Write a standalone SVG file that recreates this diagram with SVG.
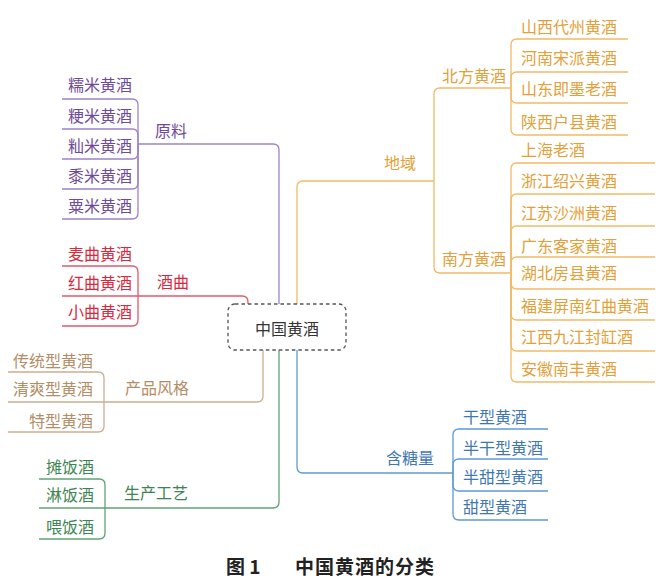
<svg xmlns="http://www.w3.org/2000/svg" width="660" height="586" viewBox="0 0 660 586">
<style>
text{font-family:"Noto Sans CJK SC","Noto Sans",sans-serif;font-size:16px}
.c path{fill:none;stroke-width:1.3}
.pu{stroke:#9d84c6}.re{stroke:#e2596a}.br{stroke:#ccae90}.gr{stroke:#5fa276}.or{stroke:#f1bb66}.bl{stroke:#5d9bd3}
.tpu{fill:#6f4a98}.tre{fill:#d9283d}.tbr{fill:#b38d66}.tgr{fill:#3e8452}.tor{fill:#e39f38}.tbl{fill:#3f78b0}
.end{text-anchor:end}
</style>
<rect width="660" height="586" fill="#fff"/>
<g id="connectors" class="c">
<!-- purple -->
<path class="pu" d="M279,304 V150 Q279,144 273,144 H138"/>
<path class="pu" d="M138,144 V105 Q138,99 132,99 H62"/>
<path class="pu" d="M138,144 V135 Q138,129 132,129 H62"/>
<path class="pu" d="M138,144 V153 Q138,159 132,159 H62"/>
<path class="pu" d="M138,144 V183 Q138,189 132,189 H62"/>
<path class="pu" d="M138,144 V213 Q138,219 132,219 H62"/>
<!-- red -->
<path class="re" d="M248,304 V302 Q248,296 242,296 H138"/>
<path class="re" d="M138,296 V272 Q138,266 132,266 H62"/>
<path class="re" d="M138,296 H62"/>
<path class="re" d="M138,296 V320 Q138,326 132,326 H62"/>
<!-- brown -->
<path class="br" d="M263,350 V396 Q263,402 257,402 H104"/>
<path class="br" d="M104,402 V378 Q104,372 98,372 H8"/>
<path class="br" d="M104,402 H8"/>
<path class="br" d="M104,402 V426 Q104,432 98,432 H8"/>
<!-- green -->
<path class="gr" d="M279,350 V502 Q279,508 273,508 H105"/>
<path class="gr" d="M105,508 V485 Q105,479 99,479 H39"/>
<path class="gr" d="M105,508 H39"/>
<path class="gr" d="M105,508 V533 Q105,539 99,539 H39"/>
<!-- orange -->
<path class="or" d="M297,304 V187 Q297,181 303,181 H434"/>
<path class="or" d="M434,181 V94 Q434,88 440,88 H511"/>
<path class="or" d="M434,181 V267 Q434,273 440,273 H511"/>
<path class="or" d="M511,88 V45 Q511,39 517,39 H628"/>
<path class="or" d="M511,88 V78 Q511,72 517,72 H628"/>
<path class="or" d="M511,88 V97 Q511,103 517,103 H628"/>
<path class="or" d="M511,88 V129 Q511,135 517,135 H628"/>
<path class="or" d="M511,273 V169 Q511,163 517,163 H655"/>
<path class="or" d="M511,273 V200 Q511,194 517,194 H655"/>
<path class="or" d="M511,273 V232 Q511,226 517,226 H655"/>
<path class="or" d="M511,273 V263 Q511,257 517,257 H655"/>
<path class="or" d="M511,273 V283 Q511,289 517,289 H655"/>
<path class="or" d="M511,273 V314 Q511,320 517,320 H655"/>
<path class="or" d="M511,273 V345 Q511,351 517,351 H655"/>
<path class="or" d="M511,273 V376 Q511,382 517,382 H655"/>
<!-- blue -->
<path class="bl" d="M297,350 V467 Q297,473 303,473 H453"/>
<path class="bl" d="M453,473 V435 Q453,429 459,429 H548"/>
<path class="bl" d="M453,473 V465 Q453,459 459,459 H548"/>
<path class="bl" d="M453,473 V485 Q453,491 459,491 H548"/>
<path class="bl" d="M453,473 V514 Q453,520 459,520 H548"/>
</g>
<g id="root">
<rect x="228" y="304" width="118" height="46" rx="7" fill="#fff" stroke="#555" stroke-width="1.3" stroke-dasharray="3.5,3"/>
<text x="287" y="335" text-anchor="middle" fill="#333">中国黄酒</text>
</g>
<!-- 原料 -->
<g id="n-yuanliao"><text class="tpu" x="155" y="137">原料</text></g>
<g id="n-nuomi"><text class="tpu" x="68" y="91">糯米黄酒</text></g>
<g id="n-gengmi"><text class="tpu" x="68" y="122">粳米黄酒</text></g>
<g id="n-xianmi"><text class="tpu" x="68" y="152">籼米黄酒</text></g>
<g id="n-shumi"><text class="tpu" x="68" y="182">黍米黄酒</text></g>
<g id="n-sumi"><text class="tpu" x="68" y="212">粟米黄酒</text></g>
<!-- 酒曲 -->
<g id="n-jiuqu"><text class="tre" x="157" y="288">酒曲</text></g>
<g id="n-maiqu"><text class="tre" x="68" y="260">麦曲黄酒</text></g>
<g id="n-hongqu"><text class="tre" x="68" y="289">红曲黄酒</text></g>
<g id="n-xiaoqu"><text class="tre" x="68" y="318">小曲黄酒</text></g>
<!-- 产品风格 -->
<g id="n-fengge"><text class="tbr" x="125" y="394">产品风格</text></g>
<g id="n-chuantong"><text class="tbr end" x="93" y="367">传统型黄酒</text></g>
<g id="n-qingshuang"><text class="tbr end" x="93" y="395">清爽型黄酒</text></g>
<g id="n-texing"><text class="tbr end" x="93" y="427">特型黄酒</text></g>
<!-- 生产工艺 -->
<g id="n-gongyi"><text class="tgr" x="124" y="499">生产工艺</text></g>
<g id="n-tanfan"><text class="tgr end" x="94" y="473">摊饭酒</text></g>
<g id="n-linfan"><text class="tgr end" x="94" y="501">淋饭酒</text></g>
<g id="n-weifan"><text class="tgr end" x="94" y="533">喂饭酒</text></g>
<!-- 地域 -->
<g id="n-diyu"><text class="tor" x="384" y="169">地域</text></g>
<g id="n-beifang"><text class="tor" x="442" y="82">北方黄酒</text></g>
<g id="n-nanfang"><text class="tor" x="442" y="265">南方黄酒</text></g>
<g id="n-shanxi"><text class="tor" x="521" y="33">山西代州黄酒</text></g>
<g id="n-henan"><text class="tor" x="521" y="64">河南宋派黄酒</text></g>
<g id="n-shandong"><text class="tor" x="521" y="95">山东即墨老酒</text></g>
<g id="n-shaanxi"><text class="tor" x="521" y="128">陕西户县黄酒</text></g>
<g id="n-shanghai"><text class="tor" x="521" y="156">上海老酒</text></g>
<g id="n-zhejiang"><text class="tor" x="521" y="187">浙江绍兴黄酒</text></g>
<g id="n-jiangsu"><text class="tor" x="521" y="219">江苏沙洲黄酒</text></g>
<g id="n-guangdong"><text class="tor" x="521" y="252">广东客家黄酒</text></g>
<g id="n-hubei"><text class="tor" x="521" y="279">湖北房县黄酒</text></g>
<g id="n-fujian"><text class="tor" x="521" y="312">福建屏南红曲黄酒</text></g>
<g id="n-jiangxi"><text class="tor" x="521" y="343">江西九江封缸酒</text></g>
<g id="n-anhui"><text class="tor" x="521" y="375">安徽南丰黄酒</text></g>
<!-- 含糖量 -->
<g id="n-hantang"><text class="tbl" x="386" y="464">含糖量</text></g>
<g id="n-gan"><text class="tbl" x="463" y="423">干型黄酒</text></g>
<g id="n-bangan"><text class="tbl" x="463" y="454">半干型黄酒</text></g>
<g id="n-bantian"><text class="tbl" x="463" y="483">半甜型黄酒</text></g>
<g id="n-tian"><text class="tbl" x="463" y="513">甜型黄酒</text></g>
<!-- caption -->
<g id="caption">
<text x="226" y="574" font-size="19" font-weight="bold" fill="#222" style="font-size:19px">图 1</text>
<text x="295" y="574" font-weight="bold" fill="#222" style="font-size:19px;letter-spacing:1px">中国黄酒的分类</text>
</g>
</svg>
